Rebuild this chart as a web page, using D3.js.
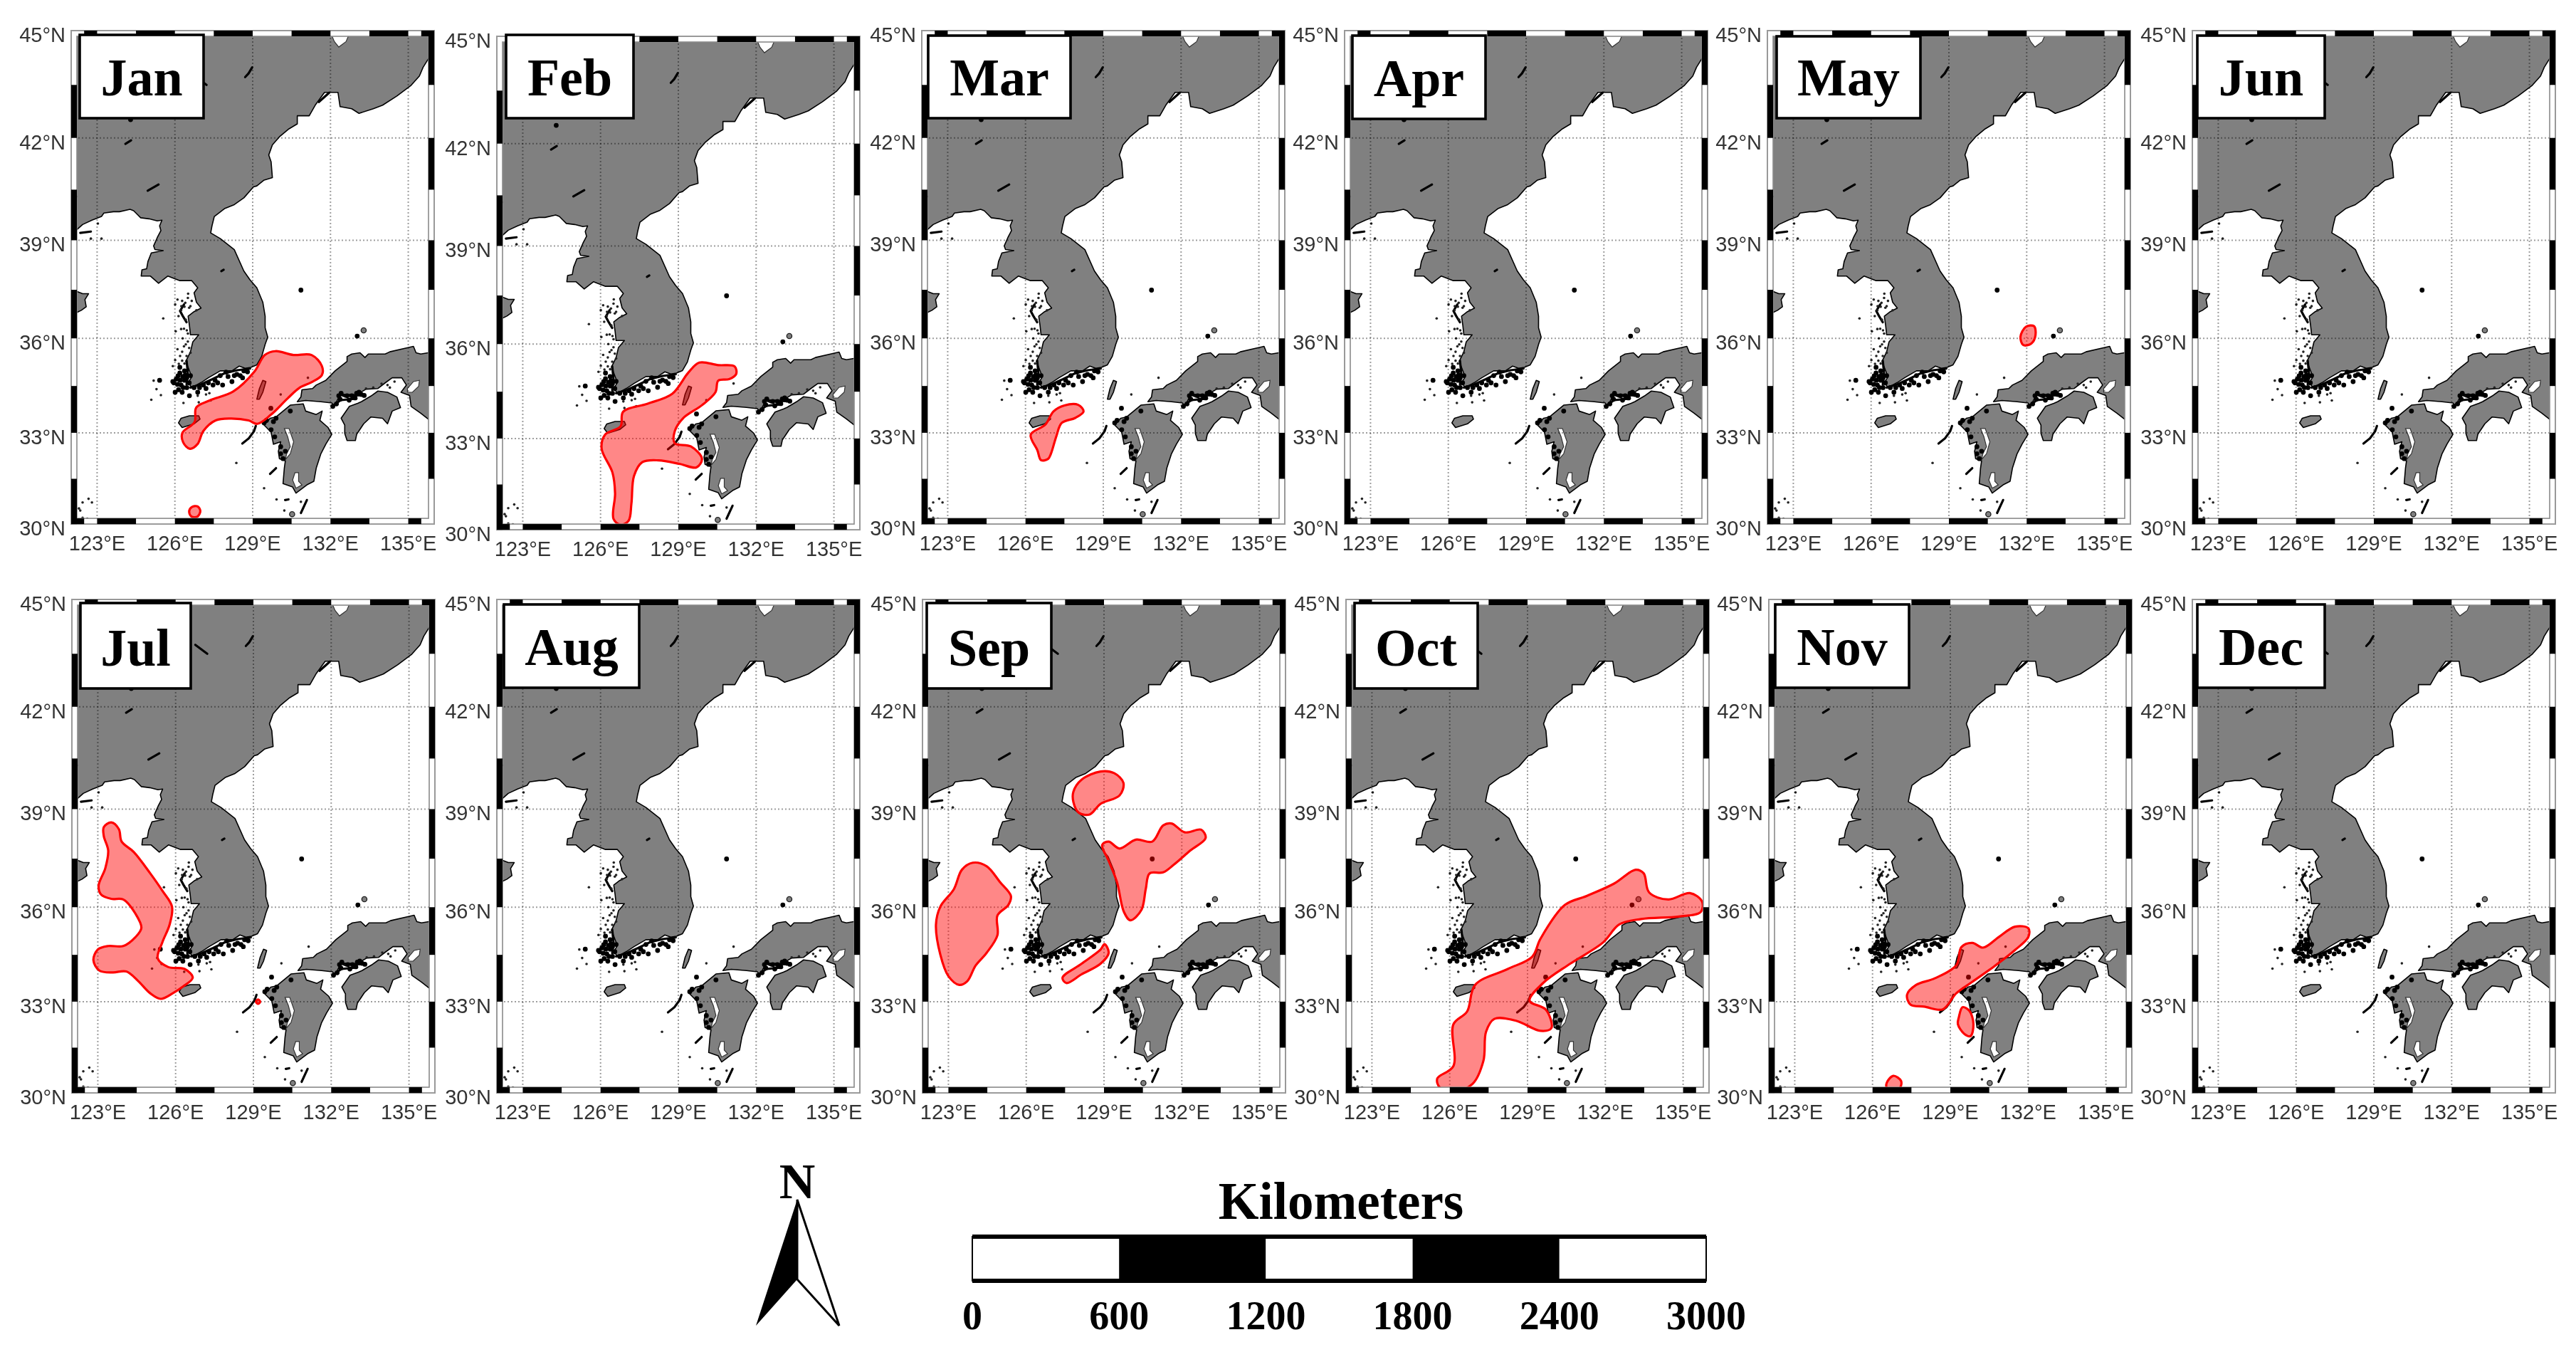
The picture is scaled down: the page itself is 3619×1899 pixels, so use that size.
<!DOCTYPE html>
<html lang="en">
<head>
	<meta charset="UTF-8">
	<title>Monthly maps</title>
	<style>
		*{margin:0;padding:0;}
		body {background:#fff;}
		svg {display:block;filter:blur(0.7px);}
	</style>
</head>
<body>
	<div id="container"></div>
	<script src="https://d3js.org/d3.v7.min.js" charset="utf-8"></script>
	<script>
		var months = ['Jan','Feb','Mar','Apr','May','Jun','Jul','Aug','Sep','Oct','Nov','Dec']
		var lonTicks = [123,126,129,132,135]
		var latTicks = [30,33,36,39,42,45]
		var kmTicks = [0,600,1200,1800,2400,3000]

		// coast outlines, lon/lat
		var mainland = [[121.8,39.1],[122.21,39.31],[122.44,39.47],[122.8,39.6],[123.17,39.71],[123.26,39.81],[123.63,39.85],[123.86,39.85],[124.27,39.92],[124.41,39.88],[124.54,39.78],[124.68,39.67],[125,39.64],[125.32,39.58],[125.5,39.6],[125.41,39.43],[125.46,39.29],[125.32,39.08],[125.18,38.83],[125.23,38.72],[125.55,38.69],[125.09,38.62],[124.96,38.36],[124.91,38.14],[124.73,38.11],[124.7,37.92],[125.05,37.92],[125.37,37.7],[125.73,37.92],[126.19,37.78],[126.65,37.78],[126.88,37.56],[126.74,37.41],[126.83,37.12],[127.01,36.94],[126.74,36.83],[126.51,36.69],[126.56,36.4],[126.6,36.11],[126.92,36.11],[126.69,35.89],[126.6,35.58],[126.42,35.28],[126.56,34.98],[126.65,34.79],[126.51,34.61],[126.65,34.45],[127.01,34.61],[127.29,34.76],[127.75,34.98],[128.2,34.98],[128.48,35.13],[128.71,35.06],[128.93,35.09],[129.16,35.17],[129.35,35.44],[129.48,35.81],[129.58,36.04],[129.48,36.33],[129.48,36.69],[129.39,37.12],[129.16,37.56],[128.89,37.81],[128.66,38.07],[128.29,38.72],[127.75,39.05],[127.38,39.22],[127.43,39.43],[127.52,39.71],[127.93,39.95],[128.29,40.06],[128.66,40.26],[129.03,40.58],[129.16,40.61],[129.44,40.78],[129.76,40.85],[129.71,41.31],[129.62,41.51],[129.76,41.8],[130.03,42.03],[130.4,42.26],[130.72,42.4],[130.72,42.63],[131.18,42.63],[131.41,42.93],[131.77,43.29],[132.05,43.29],[132.29,43.29],[132.37,42.89],[132.82,42.83],[133.1,42.7],[133.65,42.83],[134.01,42.93],[134.56,43.19],[135.11,43.49],[135.43,43.75],[135.57,43.99],[135.77,44.22],[136.2,44.5],[136.2,45.3],[121.8,45.3]]
		var shandong = [[121.89,37.45],[122.21,37.45],[122.44,37.38],[122.67,37.38],[122.53,37.2],[122.58,36.98],[122.39,36.87],[122.21,36.8],[121.89,36.8]]
		var honshu = [[136.2,35.55],[135.77,35.55],[135.48,35.51],[135.3,35.55],[135.2,35.75],[134.93,35.7],[134.29,35.58],[134.11,35.51],[133.46,35.51],[133.33,35.4],[133.14,35.55],[132.82,35.51],[132.64,35.43],[132.64,35.28],[132.18,34.98],[131.82,34.68],[131.45,34.53],[131.31,34.42],[130.9,34.38],[130.86,34.15],[130.72,34],[131.04,34.04],[131.63,34],[132.05,33.96],[132.14,33.85],[132.37,34.22],[132.55,34.15],[133.01,34.22],[133.37,34.4],[133.83,34.42],[134.11,34.6],[134.38,34.76],[134.75,34.76],[134.93,34.53],[134.72,34.3],[135.05,34.2],[135.11,33.85],[135.48,33.63],[135.77,33.44],[136.2,33.4]]
		var shikoku = [[132.41,33.47],[132.73,33.85],[133.05,33.95],[133.19,34],[133.56,34.18],[133.83,34.34],[134.2,34.3],[134.56,34.15],[134.7,33.81],[134.38,33.7],[134.2,33.29],[134.01,33.47],[133.56,33.51],[133.28,33.29],[133.01,32.95],[132.96,32.75],[132.64,32.75],[132.55,32.98],[132.55,33.25]]
		var kyushu = [[129.9,33.51],[130.45,33.89],[130.95,33.93],[131.04,33.7],[131.45,33.59],[131.68,33.7],[131.59,33.4],[131.91,33.17],[132.05,32.95],[131.82,32.63],[131.63,32.32],[131.45,31.85],[131.36,31.42],[131.09,31.3],[130.67,31.03],[130.54,31.23],[130.17,31.34],[130.22,31.85],[130.26,32.09],[130.03,32.16],[129.99,32.4],[130.08,32.71],[129.8,32.63],[129.71,33.02],[129.44,33.25],[129.67,33.47]]
		var jeju = [[126.14,33.32],[126.24,33.47],[126.56,33.55],[126.92,33.55],[126.97,33.44],[126.74,33.29],[126.28,33.17]]
		var tsushima = [[129.16,34.08],[129.26,34.42],[129.39,34.68],[129.51,34.64],[129.39,34.3],[129.26,34.08]]
		var landShapes = [mainland,shandong,honshu,shikoku,kyushu,jeju,tsushima]

		// lakes and bays that show white
		var khanka = [[132.05,45.3],[132.06,44.85],[132.15,44.7],[132.32,44.55],[132.6,44.7],[132.69,44.85],[132.69,45.3]]
		var osakaBay = [[134.97,34.42],[135.2,34.64],[135.43,34.68],[135.4,34.49],[135.16,34.3],[134.97,34.3]]
		var ariake = [[130.22,33.14],[130.4,33.14],[130.58,32.71],[130.45,32.32],[130.26,32.13],[130.31,32.32],[130.45,32.55],[130.35,32.87]]
		var kagoshima = [[130.63,31.7],[130.77,31.7],[130.77,31.42],[130.9,31.3],[130.67,31.19],[130.54,31.46]]
		var whiteShapes = [khanka,osakaBay,ariake,kagoshima]

		// short black squiggles
		var blackStrokes = [
			[[128.71,43.72],[128.84,43.82],[128.98,43.99]],
			[[124.09,41.83],[124.31,41.93]],
			[[124.95,40.47],[125.37,40.65]],
			[[127.79,38.07],[127.88,38.11]],
			[[126.76,43.75],[127.22,43.5]],
			[[122.35,39.22],[122.76,39.26]],
			[[129.67,31.66],[129.9,31.85]],
			[[130.86,30.37],[131.09,30.8]],
			[[130.25,30.8],[130.38,30.82]],
			[[126.35,37.05],[126.2,36.85],[126.3,36.7],[126.45,36.5]],
			[[131.55,43.02],[131.95,43.28]],
			[[132.4,34.22],[133.2,34.2]],
			[[128.6,32.65],[128.85,32.82],[129.05,33.05],[129.12,33.22]],
			[[126.6,34.45],[127.0,34.55],[127.45,34.72],[127.9,34.9],[128.4,35.0],[128.9,35.05]],
			[[126.45,35.3],[126.5,34.9],[126.45,34.55]],
			[[132.05,33.85],[132.4,34.05],[133.0,34.1]]
		]
		var bigIslets = [[130.86,37.49],[133.03,36.07],[129.7,33.79],[124.29,42.52],[125.41,34.68],[126.05,34.72],[126.19,34.91],[126.37,34.98],[125.96,34.6],[126.24,34.53],[126.14,34.38],[126.46,34.45],[126.01,34.3],[126.56,34.19],[126.19,35.09],[126.46,34.76],[126.37,34.68],[126.6,34.83],[125.92,34.64],[126.28,34.3],[126.74,34.45],[126.88,34.3],[127.1,34.53],[127.29,34.6],[127.47,34.53],[127.65,34.6],[127.75,34.83],[127.97,34.94],[128.2,34.64],[128.29,34.83],[128.52,34.83],[128.66,34.98],[128.61,34.76],[128.39,34.87],[127.84,34.53],[132.32,34.19],[132.41,34.27],[132.37,34.08],[132.64,34.19],[132.82,34.19],[133.01,34.27],[133.1,34.3],[133.19,34.23],[132.09,33.85],[132.23,33.93],[129.44,33.32],[129.53,33.4],[129.8,33.36],[129.71,33.1],[129.85,32.87],[130.08,32.32],[130.08,32.55],[130.26,32.4],[130.17,32.16],[130.45,33.7],[129.9,33.47],[126.12,34.82],[126.3,34.8],[126.1,34.55],[126.32,34.45],[126.2,34.68],[126.4,34.85],[126.55,34.6],[126.95,34.45],[127.2,34.42],[127.55,34.68],[128.05,34.8],[128.8,34.95],[132.72,34.05],[132.95,34.12],[133.3,34.2]]
		var smallIslets = [[126.1,37.2],[126.01,37.05],[126.24,36.87],[126.37,36.98],[126.14,36.69],[126.42,36.58],[126.46,36.25],[126.24,36.29],[126.03,36.22],[126.42,35.81],[126.28,35.58],[126.6,35.55],[126.1,35.66],[126.01,35.32],[125.92,35.13],[126.37,35.21],[126.51,37.38],[126.65,37.16],[126.83,36.87],[126.28,37.16],[125.55,36.62],[126.88,34.19],[127.2,34.23],[127.33,34.27],[127.38,34.04],[126.33,33.96],[126.92,33.98],[125.18,34.67],[125.29,34.4],[125.46,34.21],[125.09,34.06],[122.76,39.05],[123.17,39.05],[123.03,39.5],[122.44,30.72],[122.67,30.84],[122.8,30.72],[122.3,30.52],[122.35,30.45],[122.44,30.21],[122.62,30.18],[131.13,34.76],[130.08,34.23],[129.44,31.19],[129.92,30.82],[130.22,30.45],[130.86,30.74],[128.37,32.02],[133.37,34.42],[133.65,34.45],[133.97,34.57],[134.2,34.53],[134.47,34.64],[134.29,34.45],[122.2,40.3],[126.5,37.25],[126.4,37.1],[126.55,36.95],[126.35,36.3],[126.5,36.15],[126.3,36.0],[126.5,35.9],[126.35,35.75],[126.55,35.7],[126.2,35.45],[126.45,35.45],[126.15,35.2],[126.28,35.3],[126.6,37.0],[126.25,37.0]]
		var ringIslets = [[133.28,36.25],[130.52,30.33]]

		// shaded areas per month
		var janAreas = [
			[[126.29,33],[126.76,33.35],[126.82,33.81],[127.34,34.04],[128.26,34.33],[129.07,34.96],[129.47,35.48],[129.88,35.6],[130.57,35.48],[131.27,35.48],[131.67,35.13],[131.67,34.85],[131.27,34.62],[130.8,34.44],[130.34,34.1],[129.7,33.58],[129.18,33.29],[128.84,33.4],[128.14,33.46],[127.57,33.4],[127.1,33.06],[126.87,32.63],[126.58,32.48],[126.32,32.69]],
			[[126.55,30.41],[126.64,30.56],[126.87,30.59],[126.98,30.44],[126.87,30.25],[126.64,30.25]]
		]
		var febAreas = [
			[[129.81,35.42],[130.54,35.34],[131.17,35.3],[131.23,35.06],[130.96,34.9],[130.54,34.85],[130.43,34.48],[129.91,34.07],[129.18,33.65],[128.86,33.23],[128.86,32.85],[129.49,32.74],[129.91,32.34],[129.7,32.06],[129.07,32.17],[128.24,32.29],[127.61,32.23],[127.29,31.78],[127.19,30.87],[127.08,30.3],[126.77,30.17],[126.5,30.36],[126.56,31.21],[126.46,31.89],[126.04,32.68],[126.18,33.13],[126.77,33.39],[126.87,33.86],[127.82,34.12],[128.76,34.43],[129.39,35.11]]
		]
		var marAreas = [
			[[126.2,32.94],[126.77,33.27],[127.08,33.69],[127.5,33.88],[128.03,33.9],[128.24,33.69],[127.92,33.48],[127.4,33.32],[127.19,32.89],[126.98,32.32],[126.87,32.15],[126.6,32.11],[126.46,32.43]]
		]
		var aprAreas = []
		var mayAreas = [
			[[131.76,36.05],[131.97,36.36],[132.28,36.38],[132.34,36.1],[132.18,35.84],[131.87,35.79]]
		]
		var junAreas = []
		var julAreas = [
			[[123.23,38.46],[123.52,38.6],[123.81,38.4],[123.92,38.02],[124.39,37.7],[125.02,37.05],[125.49,36.51],[125.86,36.02],[125.77,35.46],[125.49,34.9],[125.31,34.39],[125.72,34.11],[126.35,34.05],[126.66,33.77],[126.29,33.49],[125.89,33.27],[125.43,33.09],[125.02,33.27],[124.56,33.66],[124.1,33.97],[123.58,33.94],[123.06,34],[122.83,34.33],[123,34.67],[123.4,34.78],[123.98,34.78],[124.45,35.06],[124.68,35.35],[124.45,35.8],[123.98,36.24],[123.52,36.26],[123.12,36.4],[123.03,36.67],[123.29,37.21],[123.4,37.75],[123.23,38.19]],
			[[129.1,33],[129.18,33.07],[129.26,33],[129.18,32.93]]
		]
		var augAreas = []
		var sepAreas = [
			[[123.94,37.375],[124.47,37.27],[124.99,36.78],[125.41,36.35],[125.31,36.07],[124.89,35.74],[124.89,35.12],[124.47,34.56],[124.05,34.16],[123.73,33.66],[123.42,33.54],[123,33.82],[122.69,34.5],[122.52,35.46],[122.69,36.02],[123.21,36.56],[123.52,37.16]],
			[[127.82,39.52],[128.14,39.88],[128.87,40.12],[129.39,40.07],[129.75,39.78],[129.6,39.41],[128.87,39.16],[128.45,38.84],[128.03,38.89],[127.82,39.21]],
			[[128.93,37.92],[129.18,38.02],[129.6,37.81],[130.23,38.08],[130.86,38.02],[131.28,38.51],[131.6,38.57],[132.12,38.3],[132.75,38.38],[132.92,38.13],[132.33,37.75],[131.7,37.32],[131.28,37.08],[130.76,37.05],[130.61,36.56],[130.44,35.91],[130.02,35.59],[129.77,35.85],[129.5,36.78],[129.18,37.43]],
			[[127.4,33.77],[128.14,34.22],[128.87,34.67],[129.02,34.84],[129.18,34.56],[128.87,34.22],[128.14,33.88],[127.55,33.6]]
		]
		var octAreas = [
			[[125.52,30.48],[126.14,30.89],[126.14,32.26],[126.67,32.68],[126.98,33.54],[128.24,34.05],[129.18,34.44],[129.5,35.01],[130.44,36.07],[131.28,36.35],[132.33,36.73],[133.17,37.16],[133.48,37.05],[133.69,36.46],[134.43,36.24],[135.26,36.44],[135.73,36.18],[135.68,35.85],[134.84,35.71],[133.38,35.63],[132.54,35.46],[131.91,34.89],[130.65,34.22],[129.6,33.6],[129.08,33.03],[129.71,32.74],[129.92,32.14],[129.5,32.05],[128.56,32.38],[127.72,32.44],[127.4,32.02],[127.3,31.07],[126.88,30.3],[126.25,30.06],[125.62,30.18]]
		]
		var novAreas = [
			[[127.33,33.22],[127.68,33.54],[128.4,33.75],[129.23,34.17],[129.43,34.75],[129.85,34.88],[130.26,34.73],[130.88,35.07],[131.49,35.39],[132.01,35.34],[132.01,35.07],[131.49,34.65],[130.67,34.12],[129.85,33.64],[129.23,33.27],[128.71,32.75],[127.99,32.84],[127.47,32.9]],
			[[129.33,32.5],[129.47,32.82],[129.74,32.7],[129.89,32.27],[129.78,31.88],[129.54,31.95],[129.29,32.27]],
			[[126.55,30.34],[126.8,30.57],[127.1,30.4],[127.06,30.17],[126.8,30.06],[126.55,30.17]]
		]
		var decAreas = []
		var monthAreas = [janAreas,febAreas,marAreas,aprAreas,mayAreas,junAreas,julAreas,augAreas,sepAreas,octAreas,novAreas,decAreas]

		// alternating black pieces of the map frame
		var bottomBlack = [[122,122.5],[123,124.5],[126,127.5],[129,130.5],[132,133.5],[135,135.5]]
		var topBlack = [[122.5,123],[124.5,126],[127.5,129],[130.5,132],[133.5,135],[135.5,136]]
		var leftBlack = [[30,31.5],[33,34.5],[36,37.5],[39,40.5],[42,43.5]]
		var rightBlack = [[31.5,33],[34.5,36],[37.5,39],[40.5,42],[43.5,45]]

		// layout of the panels on the page
		var panelLeft = [100,698,1295,1889,2483,3080,101,698,1296,1891,2485,3080]
		var panelTop = [43,51,43,43,43,43,842,842,842,842,842,842]
		var boxX = [[112,286],[711,890],[1304,1504],[1900,2087],[2496,2698],[3087,3266],[113,268],[708,898],[1302,1477],[1903,2076],[2494,2682],[3087,3266]]
		var boxY = [[49,166],[49,166],[50,166],[50,167],[51,166],[50,166],[847,967],[849,966],[847,967],[847,967],[849,966],[849,966]]
		var panelW = 510, bandW = 8

		var svg = d3.select('#container').append('svg').attr('width', 3619).attr('height', 1899)

		months.forEach(function (name, i) {
			var x0 = panelLeft[i], y0 = panelTop[i]
			var proj = d3.geoMercator()
				.center([122,45])
				.scale(panelW / (14 * Math.PI / 180))
				.translate([x0,y0])
			var xOf = function (lon) {return proj([lon,37])[0]}
			var yOf = function (lat) {return proj([129,lat])[1]}
			var xRight = xOf(136), yBottom = yOf(30)

			var coast = d3.line().x(function (d) {return proj(d)[0]}).y(function (d) {return proj(d)[1]}).curve(d3.curveLinearClosed)
			var open = d3.line().x(function (d) {return proj(d)[0]}).y(function (d) {return proj(d)[1]})
			var blob = d3.line().x(function (d) {return proj(d)[0]}).y(function (d) {return proj(d)[1]}).curve(d3.curveCatmullRomClosed.alpha(0.5))

			var clipId = 'clip' + i
			svg.append('clipPath').attr('id', clipId).append('rect')
				.attr('x', x0).attr('y', y0)
				.attr('width', xRight - x0).attr('height', yBottom - y0)

			var g = svg.append('g').attr('clip-path', 'url(#' + clipId + ')')

			g.selectAll('path.land').data(landShapes).enter().append('path')
				.attr('class','land')
				.attr('d', coast)
				.attr('fill','#808080')
				.attr('stroke','#000')
				.attr('stroke-width',1.6)
				.attr('stroke-linejoin','round')
			g.selectAll('path.white').data(whiteShapes).enter().append('path')
				.attr('class','white')
				.attr('d', coast)
				.attr('fill','#fff')
				.attr('stroke','#333')
				.attr('stroke-width',1.2)
			g.selectAll('path.squiggle').data(blackStrokes).enter().append('path')
				.attr('class','squiggle')
				.attr('d', open)
				.attr('fill','none')
				.attr('stroke','#000')
				.attr('stroke-width',3.2)
				.attr('stroke-linecap','round')
			g.selectAll('circle.big').data(bigIslets).enter().append('circle')
				.attr('class','big')
				.attr('cx', function (d) {return proj(d)[0]})
				.attr('cy', function (d) {return proj(d)[1]})
				.attr('r',3.4)
				.attr('fill','#000')
			g.selectAll('circle.small').data(smallIslets).enter().append('circle')
				.attr('class','small')
				.attr('cx', function (d) {return proj(d)[0]})
				.attr('cy', function (d) {return proj(d)[1]})
				.attr('r',1.8)
				.attr('fill','#222')
			g.selectAll('circle.ring').data(ringIslets).enter().append('circle')
				.attr('class','ring')
				.attr('cx', function (d) {return proj(d)[0]})
				.attr('cy', function (d) {return proj(d)[1]})
				.attr('r',3.6)
				.attr('fill','#808080')
				.attr('stroke','#222')
				.attr('stroke-width',1.4)

			// dotted grid
			g.selectAll('line.gx').data(lonTicks).enter().append('line')
				.attr('class','gx')
				.attr('x1', xOf).attr('x2', xOf)
				.attr('y1', y0).attr('y2', yBottom)
			g.selectAll('line.gy').data(latTicks).enter().append('line')
				.attr('class','gy')
				.attr('y1', yOf).attr('y2', yOf)
				.attr('x1', x0).attr('x2', xRight)
			g.selectAll('line')
				.attr('stroke','rgba(0,0,0,0.38)')
				.attr('stroke-width',2)
				.attr('stroke-dasharray','2 3')

			// shaded areas
			g.selectAll('path.area').data(monthAreas[i]).enter().append('path')
				.attr('class','area')
				.attr('d', blob)
				.attr('fill','rgba(255,0,0,0.47)')
				.attr('stroke','#ff0000')
				.attr('stroke-width',3.2)
				.attr('stroke-linejoin','round')

			// frame band
			svg.append('rect')
				.attr('x', x0 + bandW / 2).attr('y', y0 + bandW / 2)
				.attr('width', xRight - x0 - bandW).attr('height', yBottom - y0 - bandW)
				.attr('fill','none')
				.attr('stroke','#fff')
				.attr('stroke-width',bandW)
			svg.append('rect')
				.attr('x', x0).attr('y', y0)
				.attr('width', xRight - x0).attr('height', yBottom - y0)
				.attr('fill','none')
				.attr('stroke','#999')
				.attr('stroke-width',2)
			svg.append('rect')
				.attr('x', x0 + bandW).attr('y', y0 + bandW)
				.attr('width', xRight - x0 - 2 * bandW).attr('height', yBottom - y0 - 2 * bandW)
				.attr('fill','none')
				.attr('stroke','#8a8a8a')
				.attr('stroke-width',1.6)

			var band = svg.append('g').attr('fill','#000')
			bottomBlack.forEach(function (s) {
				band.append('rect').attr('x', xOf(s[0])).attr('y', yBottom - bandW)
					.attr('width', xOf(s[1]) - xOf(s[0])).attr('height', bandW)
			})
			topBlack.forEach(function (s) {
				band.append('rect').attr('x', xOf(s[0])).attr('y', y0)
					.attr('width', xOf(s[1]) - xOf(s[0])).attr('height', bandW)
			})
			leftBlack.forEach(function (s) {
				band.append('rect').attr('x', x0).attr('y', yOf(s[1]))
					.attr('width', bandW).attr('height', yOf(s[0]) - yOf(s[1]))
			})
			rightBlack.forEach(function (s) {
				band.append('rect').attr('x', xRight - bandW).attr('y', yOf(s[1]))
					.attr('width', bandW).attr('height', yOf(s[0]) - yOf(s[1]))
			})

			// month box
			svg.append('rect')
				.attr('x', boxX[i][0]).attr('y', boxY[i][0])
				.attr('width', boxX[i][1] - boxX[i][0]).attr('height', boxY[i][1] - boxY[i][0])
				.attr('fill','#fff')
				.attr('stroke','#000')
				.attr('stroke-width',3.6)
			svg.append('text')
				.text(name)
				.attr('x', (boxX[i][0] + boxX[i][1]) / 2)
				.attr('y', boxY[i][1] - 32)
				.attr('text-anchor','middle')
				.attr('font-family','"Liberation Serif", serif')
				.attr('font-weight','bold')
				.attr('font-size',74)
				.attr('fill','#000')

			// tick labels
			svg.selectAll('text.lat' + i).data(latTicks).enter().append('text')
				.attr('class','lat' + i)
				.text(function (d) {return d + '°N'})
				.attr('x', x0 - 8)
				.attr('y', function (d) {return yOf(d) + 16})
				.attr('text-anchor','end')
			svg.selectAll('text.lon' + i).data(lonTicks).enter().append('text')
				.attr('class','lon' + i)
				.text(function (d) {return d + '°E'})
				.attr('x', xOf)
				.attr('y', yBottom + 37)
				.attr('text-anchor','middle')
			svg.selectAll('text.lat' + i + ',text.lon' + i)
				.attr('font-family','"Liberation Sans", sans-serif')
				.attr('font-size',29)
				.attr('fill','#333')
		})

		// scale bar
		var kmScale = d3.scaleLinear().domain([0,3000]).range([1366,2397])
		var barTop = 1737, barH = 62
		svg.selectAll('rect.km').data(d3.pairs(kmTicks)).enter().append('rect')
			.attr('class','km')
			.attr('x', function (d) {return kmScale(d[0])})
			.attr('y', barTop)
			.attr('width', function (d) {return kmScale(d[1]) - kmScale(d[0])})
			.attr('height', barH)
			.attr('fill', function (d, i) {return i % 2 ? '#000' : '#fff'})
		svg.append('rect')
			.attr('x', kmScale(0)).attr('y', barTop)
			.attr('width', kmScale(3000) - kmScale(0)).attr('height', barH)
			.attr('fill','none')
			.attr('stroke','#000')
			.attr('stroke-width',2)
		svg.selectAll('line.edge').data([barTop, barTop + barH]).enter().append('line')
			.attr('class','edge')
			.attr('x1', kmScale(0)).attr('x2', kmScale(3000))
			.attr('y1', function (d) {return d}).attr('y2', function (d) {return d})
			.attr('stroke','#000')
			.attr('stroke-width',6)
		svg.selectAll('text.km').data(kmTicks).enter().append('text')
			.attr('class','km')
			.text(function (d) {return d})
			.attr('x', kmScale)
			.attr('y', 1867)
			.attr('text-anchor','middle')
			.attr('font-family','"Liberation Serif", serif')
			.attr('font-weight','bold')
			.attr('font-size',56)
		svg.append('text')
			.text('Kilometers')
			.attr('x', 1884)
			.attr('y', 1712)
			.attr('text-anchor','middle')
			.attr('font-family','"Liberation Serif", serif')
			.attr('font-weight','bold')
			.attr('font-size',73)

		// north arrow
		svg.append('text')
			.text('N')
			.attr('x', 1120)
			.attr('y', 1683)
			.attr('text-anchor','middle')
			.attr('font-family','"Liberation Serif", serif')
			.attr('font-weight','bold')
			.attr('font-size',70)
		svg.append('path')
			.attr('d','M1120,1685L1062,1862L1120,1797Z')
			.attr('fill','#000')
		svg.append('path')
			.attr('d','M1120,1685L1179,1862L1120,1797Z')
			.attr('fill','#fff')
			.attr('stroke','#000')
			.attr('stroke-width',3)
			.attr('stroke-linejoin','miter')
	</script>
</body>
</html>
